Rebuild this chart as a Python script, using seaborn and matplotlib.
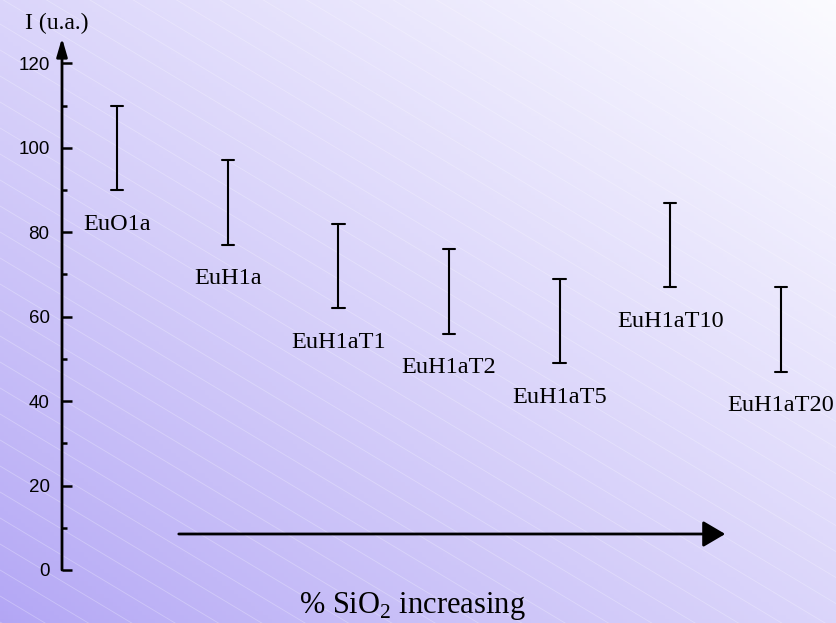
import numpy as np
import pandas as pd
import seaborn as sns
import matplotlib.pyplot as plt
from matplotlib.patches import FancyArrowPatch

# intensity range (min / max) for each sample
samples = ['EuO1a', 'EuH1a', 'EuH1aT1', 'EuH1aT2', 'EuH1aT5', 'EuH1aT10', 'EuH1aT20']
i_low = [90, 77, 62, 56, 49, 67, 47]
i_high = [110, 97, 82, 76, 69, 87, 67]
y_ticks = [0, 20, 40, 60, 80, 100, 120]

sns.set_theme(style='white')
plt.rcParams['font.family'] = ['Liberation Sans', 'DejaVu Sans']
plt.rcParams['mathtext.fontset'] = 'custom'
plt.rcParams['mathtext.rm'] = 'Liberation Serif'
plt.rcParams['text.color'] = 'black'
plt.rcParams['ytick.labelcolor'] = 'black'

W, H = 836, 623
fig = plt.figure(figsize=(W / 100, H / 100), dpi=100)

# background: diagonal lavender gradient with faint white hatching
bg = fig.add_axes([0, 0, 1, 1], zorder=-10)
xx, yy = np.meshgrid(np.linspace(0, 1, 200), np.linspace(0, 1, 150))
t = (xx + (1 - yy)) / 2  # row 0 is the top: dark bottom-left, light top-right
c0 = np.array([0.70, 0.65, 0.96])
c1 = np.array([0.985, 0.985, 1.0])
img = c0 + (c1 - c0) * np.clip(t, 0, 1)[..., None] ** 0.85
bg.imshow(img, extent=[0, W, H, 0], aspect='auto', origin='upper')
for c in np.arange(-600, 700, 26):
    xs = np.array([0, W])
    bg.plot(xs, 0.6 * xs + c, color='white', lw=0.6, alpha=0.28)
bg.set_xlim(0, W)
bg.set_ylim(H, 0)
bg.axis('off')

ax = fig.add_axes([62 / W, (H - 570) / H, 1 - 62 / W, (570 - 38) / H])
ax.set_facecolor('none')

df = pd.DataFrame({
    'sample': samples * 2,
    'I': i_low + i_high,
})
sns.pointplot(data=df, x='sample', y='I', order=samples, errorbar=('pi', 100),
              estimator='mean', color='black', capsize=0.11, marker='',
              linestyle='none', err_kws={'linewidth': 1.5}, ax=ax)

for i, (name, lo) in enumerate(zip(samples, i_low)):
    ax.annotate(name, xy=(i, lo), xytext=(0, -34), textcoords='offset pixels',
                ha='center', va='center', fontsize=17.5, family='Liberation Serif',
                color='black')

ax.set_xlim(-0.5, 6.5)
ax.set_ylim(0, 126)
ax.set_xlabel('')
ax.set_ylabel('')
ax.set_xticks([])
ax.set_yticks(y_ticks)
ax.set_yticks(range(10, 120, 20), minor=True)
ax.tick_params(axis='y', which='major', direction='in', length=7, width=1.8,
               labelsize=13.5, pad=9, left=True, color='black', labelcolor='black')
ax.tick_params(axis='y', which='minor', direction='in', length=3.6, width=1.8,
               left=True, color='black')
for s in ax.spines.values():
    s.set_visible(False)

# y axis drawn as an arrow
ax.annotate('', xy=(0, 1), xytext=(0, 0), xycoords='axes fraction',
            arrowprops=dict(arrowstyle='-|>,head_length=0.55,head_width=0.16',
                            mutation_scale=20, lw=2, color='black',
                            shrinkA=0, shrinkB=0))
fig.text(25 / W, 1 - 23 / H, 'I (u.a.)', ha='left', va='center',
         fontsize=17, family='Liberation Serif', color='black')

# trend arrow
fig.patches.append(FancyArrowPatch(
    (176 / W, 1 - 534 / H), (728 / W, 1 - 534 / H), transform=fig.transFigure,
    arrowstyle='-|>,head_length=0.68,head_width=0.4', mutation_scale=20,
    lw=2, color='black'))
fig.text(412 / W, 1 - 613 / H, '% SiO$_\\mathregular{2}$ increasing',
         ha='center', va='baseline', fontsize=22, family='Liberation Serif',
         color='black')

fig.savefig('out.png', dpi=100)
